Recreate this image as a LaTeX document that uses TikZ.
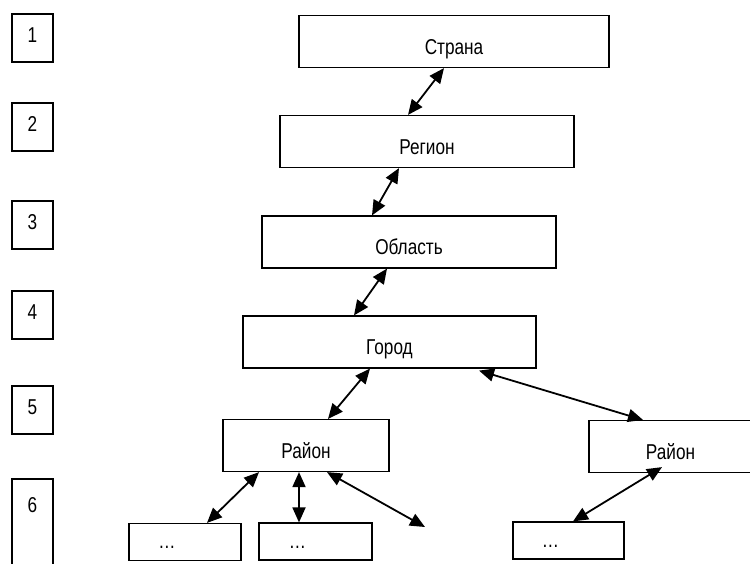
\documentclass[tikz,border=0pt]{standalone}
\usepackage{fontspec}
\setmainfont{Liberation Sans}[FakeStretch=0.8]
\usetikzlibrary{arrows.meta}
\tikzset{lvl/.style={draw, line width=1.2pt, minimum width=41pt, minimum height=48pt, inner sep=0pt, text height=8pt, text depth=0pt},
unit/.style={draw, line width=1.2pt, minimum height=52pt, inner sep=0pt, text height=25pt, text depth=0pt},
sub/.style={draw, line width=1.2pt, minimum height=37pt, inner sep=0pt, text height=13pt, text depth=0pt},
link/.style={{Triangle[length=15pt,width=13pt]}-{Triangle[length=15pt,width=13pt]}, line width=1.8pt}}

\begin{document}
\begin{tikzpicture}[x=1pt, y=-1pt, font=\fontsize{21.5}{25}\selectfont]
\useasboundingbox (0,0) rectangle (750,563);

\node[lvl] (n1) at (32.5,38) {1};
\node[lvl] (n2) at (32.5,127) {2};
\node[lvl] (n3) at (32.5,225) {3};
\node[lvl] (n4) at (32.5,315) {4};
\node[lvl] (n5) at (32.5,410) {5};
\node[lvl, minimum height=96pt, text height=0pt, text depth=30pt] (n6) at (32.5,527) {6};

\node[unit, minimum width=310pt] (strana) at (454,41.5) {Страна};
\node[unit, minimum width=294pt] (region) at (427,141.5) {Регион};
\node[unit, minimum width=294pt] (oblast) at (409,242) {Область};
\node[unit, minimum width=293pt] (gorod) at (389.5,342) {Город};
\node[unit, minimum width=166pt] (rayonA) at (306,445.5) {Район};
\node[unit, minimum width=163pt] (rayonB) at (670.5,446.5) {Район};

\node[sub, minimum width=112pt] (dotsA) at (185,542) {…\hspace*{36pt}};
\node[sub, minimum width=113pt] (dotsB) at (315.5,541.5) {…\hspace*{36pt}};
\node[sub, minimum width=111pt] (dotsC) at (568.5,540.5) {…\hspace*{36pt}};
\coordinate (loose) at (425,527);

\draw[link] ([xshift=-10pt]strana.south) -- ([xshift=-19pt]region.north);
\draw[link] ([xshift=-28pt]region.south) -- ([xshift=-37pt]oblast.north);
\draw[link] ([xshift=-22pt]oblast.south) -- ([xshift=-35.5pt]gorod.north);
\draw[link] ([xshift=-19.5pt]gorod.south) -- ([xshift=22pt]rayonA.north);
\draw[link] ([xshift=89.5pt,yshift=-2pt]gorod.south) -- ([xshift=-27.5pt]rayonB.north);
\draw[link] ([xshift=-47pt]rayonA.south) -- ([xshift=22pt]dotsA.north);
\draw[link] ([xshift=-7pt]rayonA.south) -- ([xshift=-16.5pt]dotsB.north);
\draw[link] ([xshift=21pt]rayonA.south) -- (loose);
\draw[link] ([xshift=-8.5pt,yshift=6pt]rayonB.south) -- ([xshift=4.5pt]dotsC.north);

\end{tikzpicture}
\end{document}
